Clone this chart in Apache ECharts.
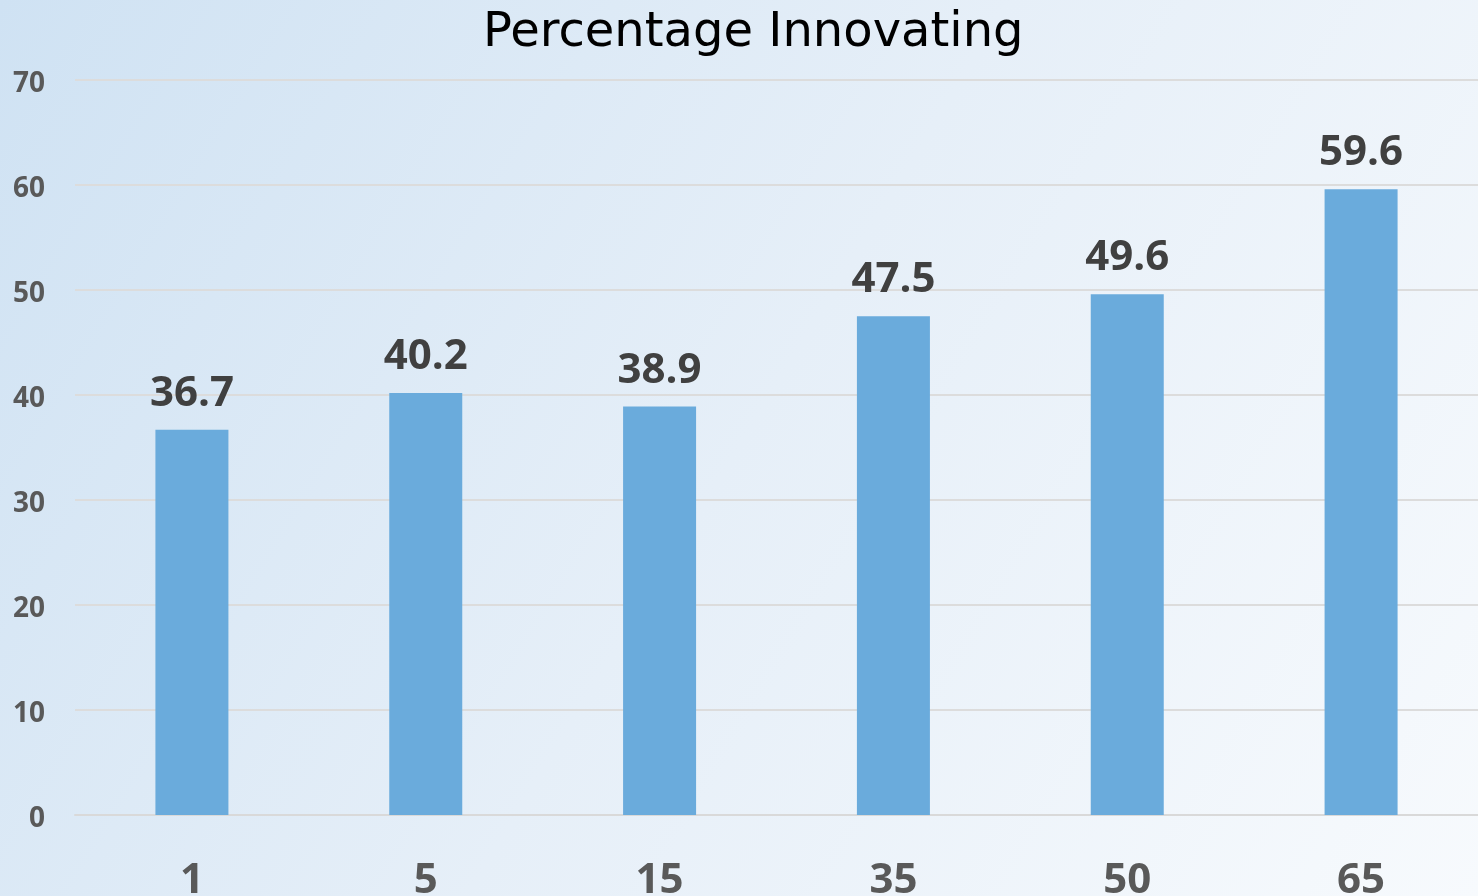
<!DOCTYPE html>
<html>
<head>
<meta charset="utf-8">
<script src="https://cdn.jsdelivr.net/npm/echarts@6/dist/echarts.min.js"></script>
<style>
  html, body { margin: 0; padding: 0; }
  #chart { width: 1478px; height: 896px; }
</style>
</head>
<body>
<div id="chart"></div>
<script>
const categories = ['1', '5', '15', '35', '50', '65'];
const values = [36.7, 40.2, 38.9, 47.5, 49.6, 59.6];
const yTicks = { min: 0, max: 70, interval: 10 };

const chart = echarts.init(document.getElementById('chart'), null, { renderer: 'canvas' });

chart.setOption({
  backgroundColor: {
    type: 'linear', x: 0, y: 0, x2: 1, y2: 1,
    colorStops: [
      { offset: 0, color: '#cfe2f3' },
      { offset: 0.5, color: '#e6eff8' },
      { offset: 1, color: '#f7fafd' }
    ]
  },
  title: {
    text: 'Percentage Innovating',
    left: 478,
    top: 5,
    textStyle: {
      fontFamily: 'DejaVu Sans',
      fontWeight: 'normal',
      fontSize: 48,
      color: '#000000'
    }
  },
  grid: { left: 75, right: 0, top: 80, bottom: 81, containLabel: false, outerBoundsMode: 'none' },
  xAxis: {
    type: 'category',
    data: categories,
    axisLine: { show: true, lineStyle: { color: '#d9d9d9', width: 2 } },
    axisTick: { show: false },
    axisLabel: {
      margin: 45,
      fontFamily: 'Open Sans',
      fontWeight: 'bold',
      fontSize: 42,
      color: '#595959'
    }
  },
  yAxis: {
    type: 'value',
    min: yTicks.min,
    max: yTicks.max,
    interval: yTicks.interval,
    axisLine: { show: false },
    axisTick: { show: false },
    splitLine: { lineStyle: { color: '#dcdcdc', width: 2 } },
    axisLabel: {
      margin: 30,
      verticalAlign: 'top',
      lineHeight: 8,
      fontFamily: 'Open Sans',
      fontWeight: 'bold',
      fontSize: 28,
      color: '#595959'
    }
  },
  series: [{
    type: 'bar',
    data: values,
    barWidth: 73,
    itemStyle: { color: '#6aabdc' },
    label: {
      show: true,
      position: 'top',
      distance: 15,
      fontFamily: 'Open Sans',
      fontWeight: 'bold',
      fontSize: 42,
      color: '#404040'
    }
  }]
});
</script>
</body>
</html>
